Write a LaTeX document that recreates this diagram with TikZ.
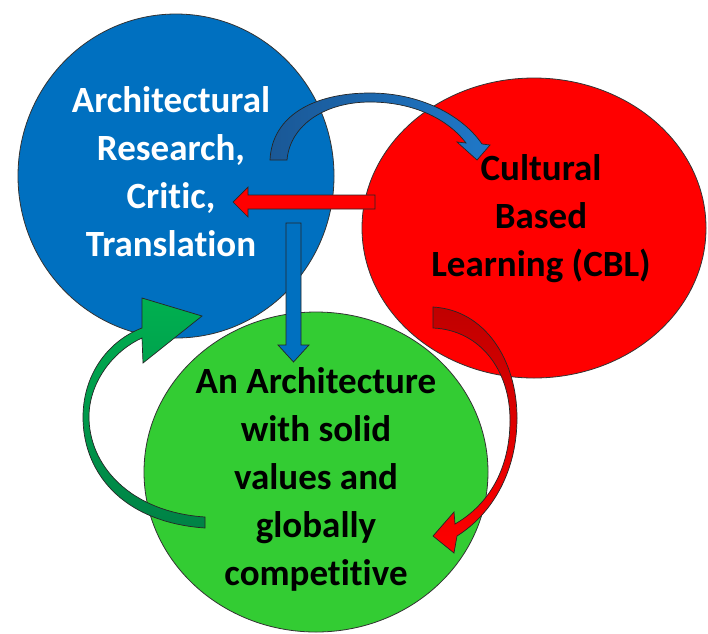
\documentclass[tikz,border=0pt]{standalone}
\usepackage{fontspec}
\setmainfont[Ligatures=NoCommon,RawFeature={-liga;-clig;-dlig}]{Carlito}
\usetikzlibrary{shapes.geometric}
\definecolor{cblue}{RGB}{0,112,192}
\definecolor{cred}{RGB}{255,0,0}
\definecolor{cgreen}{RGB}{51,204,51}
\definecolor{ablue}{RGB}{31,120,200}
\definecolor{ablued}{RGB}{26,88,150}
\definecolor{agreen}{RGB}{0,176,80}
\definecolor{agreend}{RGB}{0,130,70}
\definecolor{ared}{RGB}{255,0,0}
\definecolor{aredd}{RGB}{192,0,0}
\tikzset{
  circ/.style={ellipse, draw=black!80, line width=0.8pt, inner sep=0pt},
  arr/.style={draw=black!85, line width=0.7pt, line join=miter},
  lbl/.style={font=\bfseries\fontsize{37}{48}\selectfont, align=center, inner sep=0pt},
}
\begin{document}
\begin{tikzpicture}[x=1pt,y=-1pt]
\useasboundingbox (0,0) rectangle (708,633);
% circles
\node[circ, fill=cblue, minimum width=316pt, minimum height=324pt] (bc) at (176,176) {};
\node[circ, fill=cred, minimum width=344pt, minimum height=300pt] (rc) at (534,228) {};
\node[circ, fill=cgreen, minimum width=344pt, minimum height=320pt] (gc) at (316,472) {};
% blue curved arrow
\path[arr, left color=ablued, right color=ablue]
  (270,160) .. controls (272,115) and (315,93) .. (370,93)
  .. controls (420,93) and (462,115) .. (482,144)
  -- (490,145) -- (477,160) -- (457,142) -- (466,143)
  .. controls (447,118) and (412,102) .. (370,102)
  .. controls (325,102) and (290,125) .. (287,160) -- cycle;
% red straight arrow
\path[arr, fill=cred] (375,195) -- (248,195) -- (248,187) -- (233,202)
  -- (248,217) -- (248,209) -- (375,209) -- cycle;
% blue straight arrow
\path[arr, fill=cblue] (286,223) -- (286,345) -- (278,345) -- (293.5,362)
  -- (309,345) -- (301,345) -- (301,223) -- cycle;
% green curved arrow
\path[arr, top color=agreen, bottom color=agreend]
  (205,528) .. controls (120,522) and (82,470) .. (83,415)
  .. controls (84,372) and (110,340) .. (142,328)
  -- (142,298) -- (202,316) -- (143,363) -- (142,338)
  .. controls (115,350) and (90,380) .. (89,415)
  .. controls (88,465) and (130,512) .. (205,517) -- cycle;
% red curved arrow
\path[arr, top color=aredd, bottom color=ared]
  (433,307) .. controls (485,310) and (517,360) .. (517,418)
  .. controls (517,468) and (495,512) .. (457,536)
  -- (454,553) -- (433,536) -- (454,512) -- (455,524)
  .. controls (488,505) and (510,470) .. (510,420)
  .. controls (510,370) and (480,330) .. (433,328) -- cycle;
% texts
\node[lbl, text=white] (bt) at (171,172) {Architectural\\Research,\\Critic,\\Translation};
\node[lbl] (rt) at (541,219) {Cultural\\Based\\Learning (CBL)};
\node[lbl] (gt) at (316,479) {An Architecture\\with solid\\values and\\globally\\competitive};
\end{tikzpicture}
\end{document}
